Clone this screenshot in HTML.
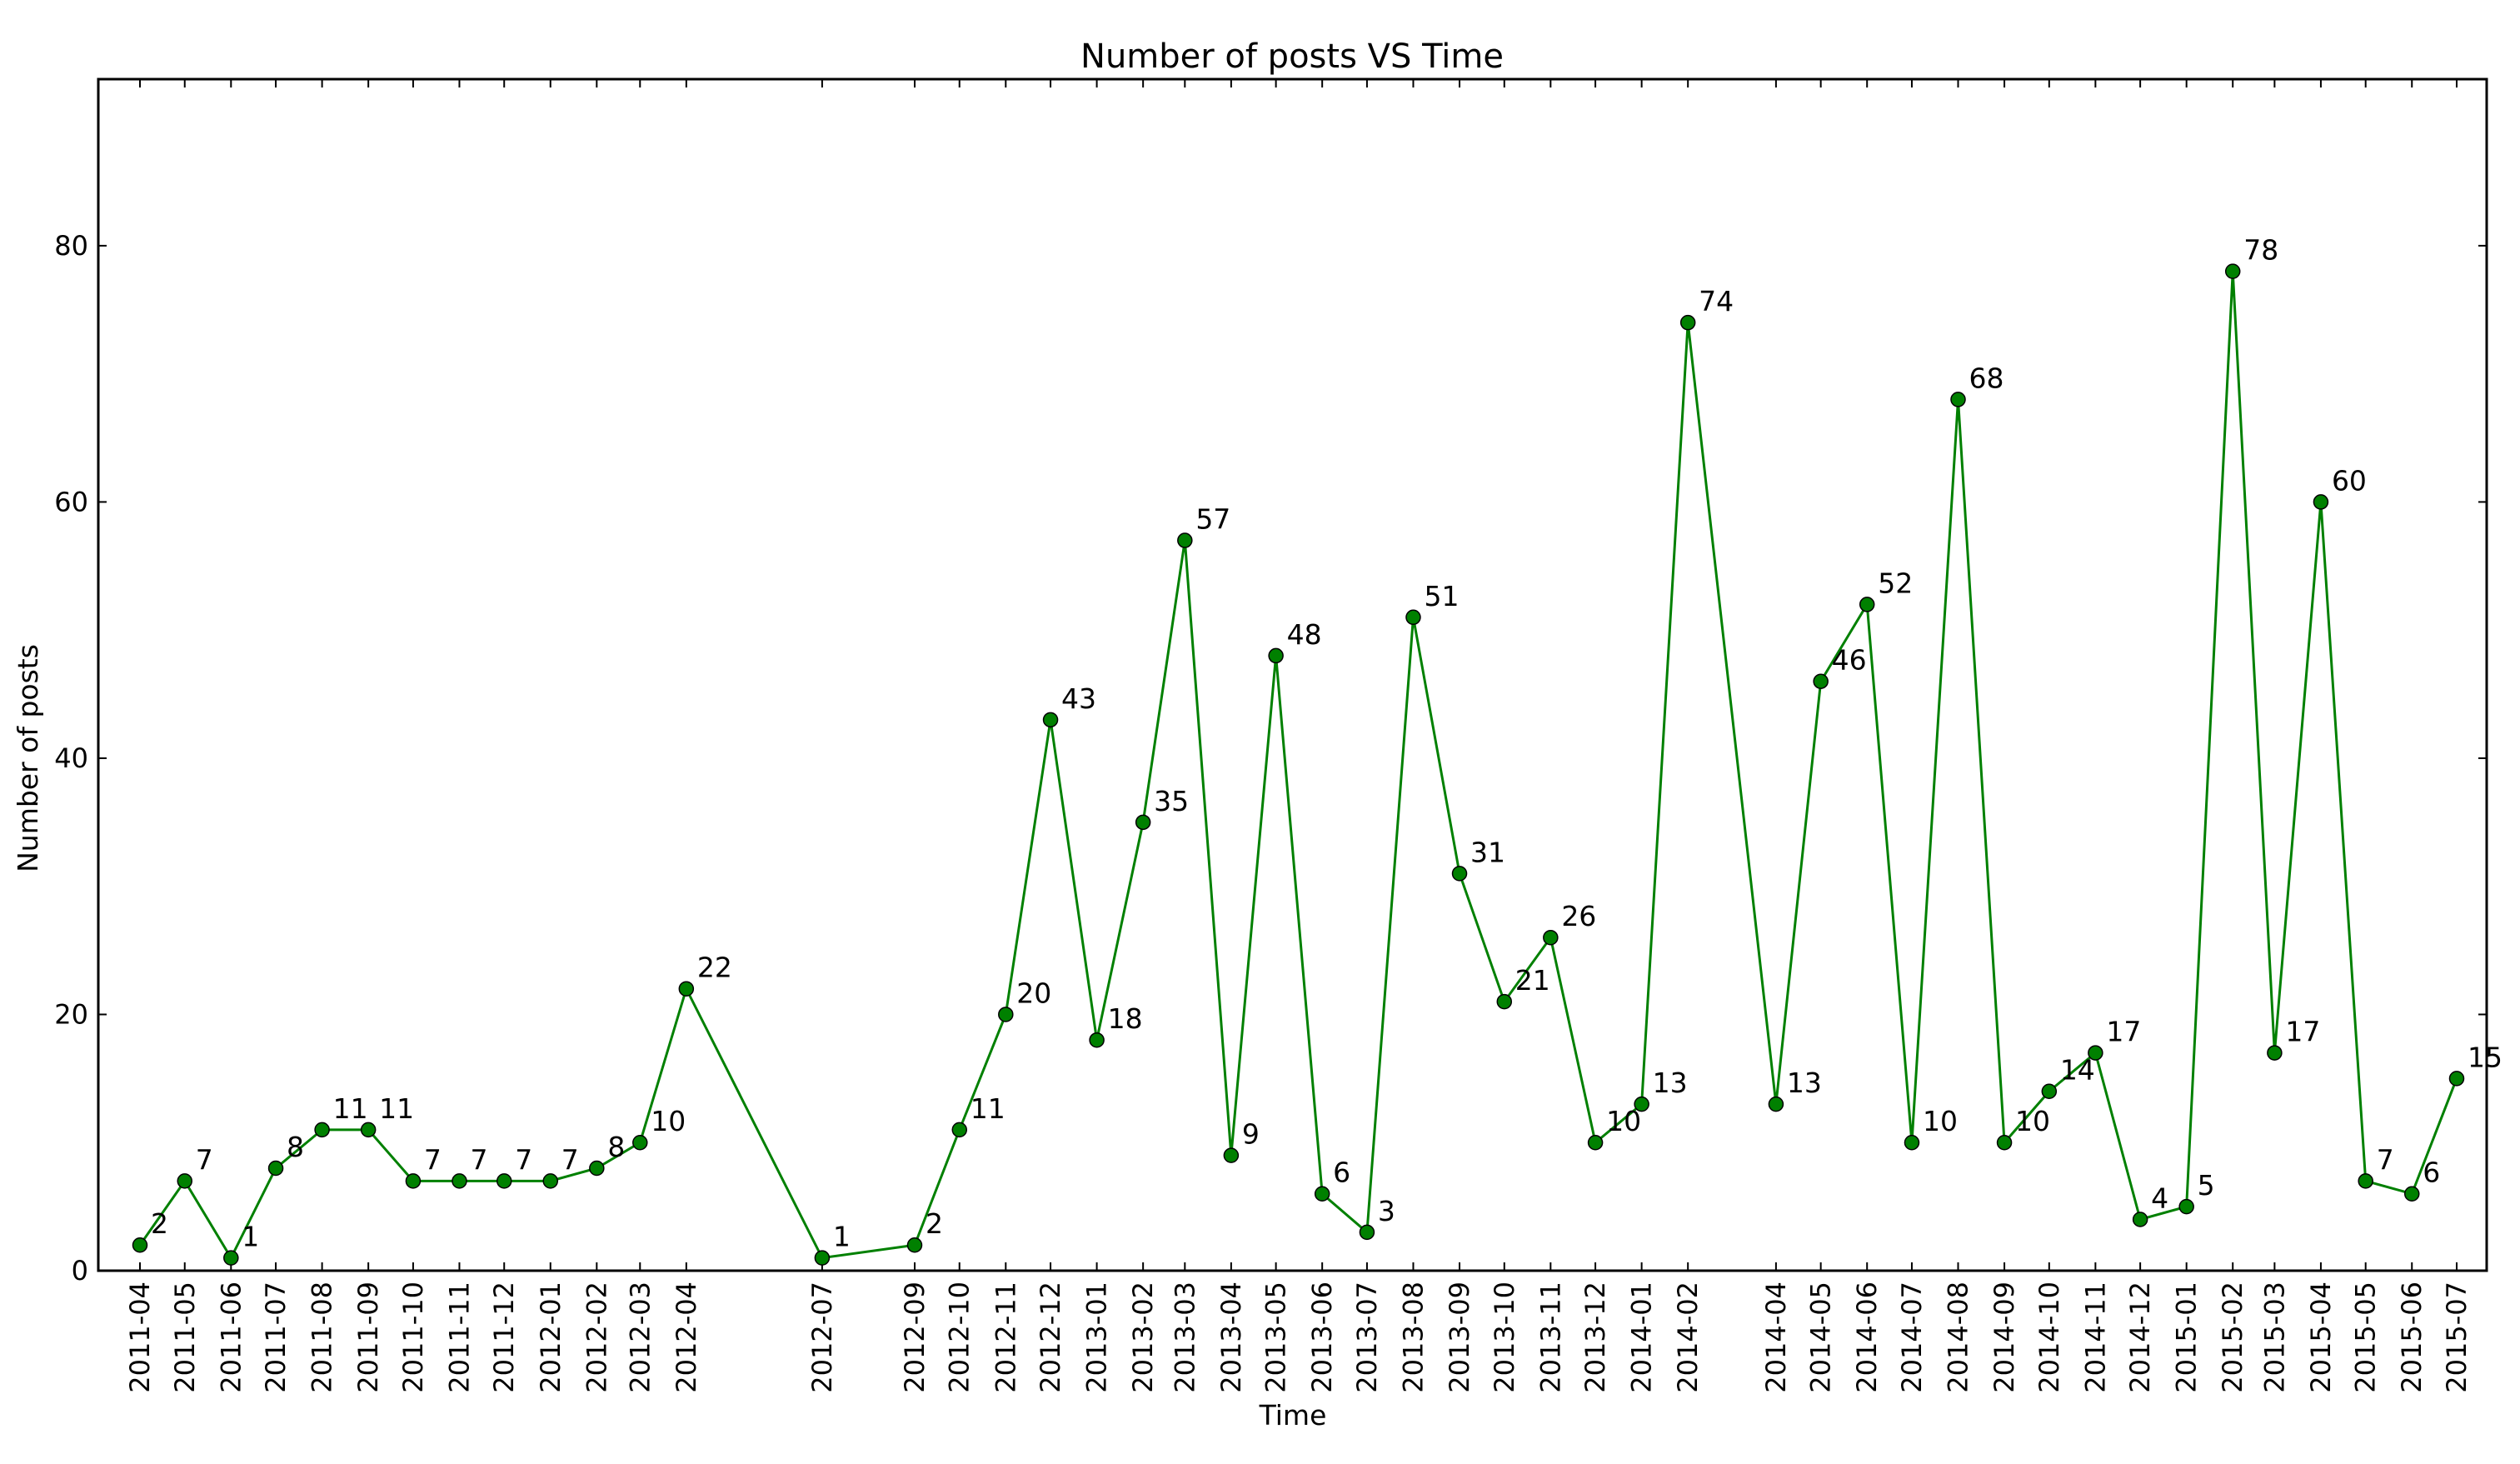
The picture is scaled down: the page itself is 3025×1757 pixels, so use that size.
<!DOCTYPE html>
<html><head><meta charset="utf-8"><style>
html,body{margin:0;padding:0;background:#fff;}
svg{display:block;font-family:"DejaVu Sans","Liberation Sans",sans-serif;}
</style></head><body>
<svg id="chart" width="3025" height="1757" viewBox="0 0 3025 1757" xmlns="http://www.w3.org/2000/svg">
<rect width="3025" height="1757" fill="#fff"/>
<text x="1551" y="81" font-size="40" text-anchor="middle">Number of posts VS Time</text>
<text x="1552" y="1710" font-size="33" text-anchor="middle">Time</text>
<text transform="translate(45,910) rotate(-90)" font-size="33" text-anchor="middle">Number of posts</text>
<g id="grid"></g>
<g id="series"></g>
<rect x="118" y="95" width="2867" height="1430" fill="none" stroke="#000" stroke-width="3"/>
</svg>
<script>
const months = ["2011-04","2011-05","2011-06","2011-07","2011-08","2011-09","2011-10","2011-11","2011-12","2012-01","2012-02","2012-03","2012-04","2012-07","2012-09","2012-10","2012-11","2012-12","2013-01","2013-02","2013-03","2013-04","2013-05","2013-06","2013-07","2013-08","2013-09","2013-10","2013-11","2013-12","2014-01","2014-02","2014-04","2014-05","2014-06","2014-07","2014-08","2014-09","2014-10","2014-11","2014-12","2015-01","2015-02","2015-03","2015-04","2015-05","2015-06","2015-07"];
const posts = [2,7,1,8,11,11,7,7,7,7,8,10,22,1,2,11,20,43,18,35,57,9,48,6,3,51,31,21,26,10,13,74,13,46,52,10,68,10,14,17,4,5,78,17,60,7,6,15];
const yTicks = [0,20,40,60,80];

const NS="http://www.w3.org/2000/svg";
const svg=document.getElementById('chart');
const gA=document.getElementById('grid'), gS=document.getElementById('series');
const d0=Date.UTC(2011,3,1), d1=Date.UTC(2015,6,1);
function dayOf(m){const [y,mo]=m.split('-').map(Number);return Date.UTC(y,mo-1,1);}
function xs(m){return 168+(dayOf(m)-d0)/(d1-d0)*(2949-168);}
function ys(v){return 1525-v*(1525-95)/93;}
function mk(tag,attrs,parent){const e=document.createElementNS(NS,tag);for(const k in attrs)e.setAttribute(k,attrs[k]);parent.appendChild(e);return e;}

yTicks.forEach(v=>{
  const y=ys(v);
  const t1=mk('line',{x1:118,x2:128,y1:y,y2:y,stroke:'#000','stroke-width':2},gA);
  
  
  const t2=mk('line',{x1:2975,x2:2985,y1:y,y2:y,stroke:'#000','stroke-width':2},gA);
  
  
  const tx=mk('text',{x:106,y:y+11,'font-size':32,'text-anchor':'end'},gA);
  tx.textContent=v;
  
  
});
months.forEach(m=>{
  const x=xs(m);
  const b=mk('line',{x1:x,x2:x,y1:1525,y2:1515,stroke:'#000','stroke-width':2},gA);
  
  
  const t=mk('line',{x1:x,x2:x,y1:95,y2:105,stroke:'#000','stroke-width':2},gA);
  
  
  const tx=mk('text',{transform:`translate(${x+11},1538) rotate(-90)`,'font-size':32,'text-anchor':'end'},gA);
  tx.textContent=m;
  
  
});
const pts=months.map((m,i)=>xs(m)+','+ys(posts[i])).join(' ');
const line=mk('polyline',{points:pts,fill:'none',stroke:'#008000','stroke-width':3},gS);


months.forEach((m,i)=>{
  const x=xs(m),y=ys(posts[i]);
  const c=mk('circle',{cx:x,cy:y,r:8.5,fill:'#008000',stroke:'#000','stroke-width':1.5},gS);
  
  
  const l=mk('text',{x:x+13,y:y-14,'font-size':33},gS);
  l.textContent=posts[i];
  
  
});
</script>
</body></html>
